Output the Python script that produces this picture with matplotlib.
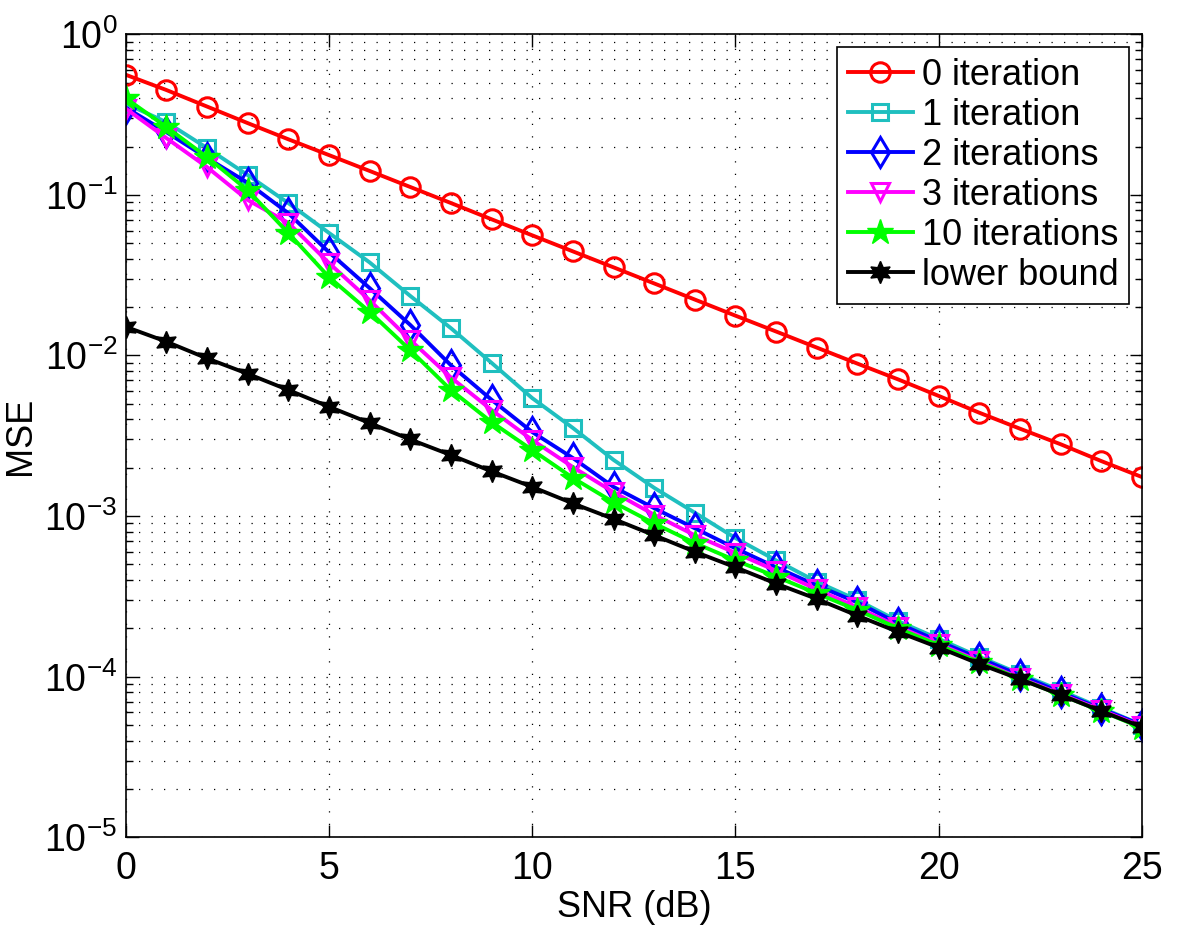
import math
import matplotlib
matplotlib.use("Agg")
import matplotlib.pyplot as plt
from matplotlib.ticker import LogLocator, NullFormatter, FuncFormatter

plt.rcParams['font.family'] = ['Liberation Sans', 'DejaVu Sans']
plt.rcParams['mathtext.fontset'] = 'custom'
plt.rcParams['mathtext.rm'] = 'Liberation Sans'

snr = list(range(26))

# MSE
mse_0 = [0.56, 0.45, 0.355, 0.28, 0.222, 0.177, 0.141, 0.112, 0.089, 0.0705,
         0.056, 0.0445, 0.0354, 0.0281, 0.0223, 0.0177, 0.0141, 0.0112, 0.0089, 0.0071,
         0.0056, 0.0044, 0.0035, 0.0028, 0.0022, 0.00175]
mse_1 = [0.37, 0.284, 0.196, 0.133, 0.089, 0.058, 0.038, 0.0235, 0.0148, 0.0090,
         0.00543, 0.00354, 0.00224, 0.0015, 0.00105, 0.00073, 0.00053, 0.00039, 0.0003, 0.000222,
         0.000172, 0.000133, 0.000104, 0.000082, 0.000064, 0.00005]
mse_2 = [0.35, 0.246, 0.17, 0.119, 0.077, 0.044, 0.0263, 0.0155, 0.0087, 0.0053,
         0.00334, 0.0023, 0.00152, 0.00112, 0.00084, 0.00063, 0.00048, 0.00037, 0.00029, 0.000215,
         0.000166, 0.00013, 0.000102, 0.00008, 0.000063, 0.00005]
mse_3 = [0.345, 0.226, 0.149, 0.093, 0.067, 0.0377, 0.0221, 0.0125, 0.0073, 0.00458,
         0.00298, 0.00202, 0.00141, 0.00102, 0.00076, 0.00059, 0.000457, 0.00035, 0.00027, 0.000205,
         0.00016, 0.000125, 0.000098, 0.000078, 0.000062, 0.000049]
mse_10 = [0.40, 0.265, 0.172, 0.107, 0.058, 0.0308, 0.0187, 0.0108, 0.0061, 0.00385,
          0.00258, 0.00173, 0.00122, 0.0009, 0.00068, 0.00053, 0.00042, 0.00033, 0.00026, 0.0002,
          0.000157, 0.000123, 0.000097, 0.000077, 0.000061, 0.000048]
mse_lb = [0.0151, 0.0122, 0.0096, 0.0077, 0.0061, 0.0048, 0.0038, 0.0030, 0.0024, 0.0019,
          0.00152, 0.0012, 0.00096, 0.00076, 0.0006, 0.00048, 0.00038, 0.000305, 0.00024, 0.00019,
          0.000152, 0.00012, 0.0000965, 0.000077, 0.000061, 0.0000486]

labels = ['0 iteration', '1 iteration', '2 iterations', '3 iterations',
          '10 iterations', 'lower bound']

fig = plt.figure(figsize=(12, 9.34), dpi=100)
ax = fig.add_axes([0.1047, 0.1035, 0.847, 0.8598])

lw = 2.8
mew = 2.2
ax.plot(snr, mse_0, '-o', color='#ff0000', lw=lw, ms=14, mew=mew, mfc='none', label=labels[0])
ax.plot(snr, mse_1, '-s', color='#1fbfbf', lw=lw, ms=12, mew=mew, mfc='none', label=labels[1])
ax.plot(snr, mse_2, '-d', color='#0000ff', lw=lw, ms=15, mew=mew, mfc='none', label=labels[2])
ax.plot(snr, mse_3, '-v', color='#ff00ff', lw=lw, ms=13, mew=mew, mfc='none', label=labels[3])
ax.plot(snr, mse_10, '-*', color='#00ff00', lw=lw, ms=19, mew=1.0, label=labels[4])
ax.plot(snr, mse_lb, '-', marker=(6, 1, 0), color='k', lw=lw, ms=16, mew=1.0,
        mfc='k', label=labels[5])

ax.set_yscale('log')
ax.set_xlim(0, 25)
ax.set_ylim(1e-5, 1)
ax.set_xticks([0, 5, 10, 15, 20, 25])
ax.yaxis.set_major_locator(LogLocator(base=10, numticks=10))
ax.yaxis.set_minor_locator(LogLocator(base=10, subs=range(2, 10), numticks=20))
ax.yaxis.set_minor_formatter(NullFormatter())
ax.yaxis.set_major_formatter(FuncFormatter(
    lambda v, p: r'$\mathregular{10^{%d}}$' % round(math.log10(v))))

# dotted grid, like matlab
ax.grid(True, which='major', linestyle=(0, (1, 9)), color='k', lw=0.9)
ax.grid(True, which='minor', axis='y', linestyle=(0, (1, 9)), color='k', lw=0.9)

ax.tick_params(axis='both', which='both', direction='in', top=True, right=True,
               labelsize=27, width=1.0)
ax.tick_params(axis='x', pad=10)
ax.tick_params(axis='y', pad=6)
ax.tick_params(which='major', length=9)
ax.tick_params(which='minor', length=5)
for s in ax.spines.values():
    s.set_linewidth(1.2)

ax.set_xlabel('SNR (dB)', fontsize=26, labelpad=2)
ax.set_ylabel('MSE', fontsize=26, labelpad=4)

leg = ax.legend(loc='upper right', fontsize=26, fancybox=False, framealpha=1,
                edgecolor='k', borderpad=0.3, labelspacing=0.14, handlelength=1.8,
                handletextpad=0.25, borderaxespad=0.35)
leg.get_frame().set_linewidth(1.2)

fig.savefig('out.png', dpi=100)
